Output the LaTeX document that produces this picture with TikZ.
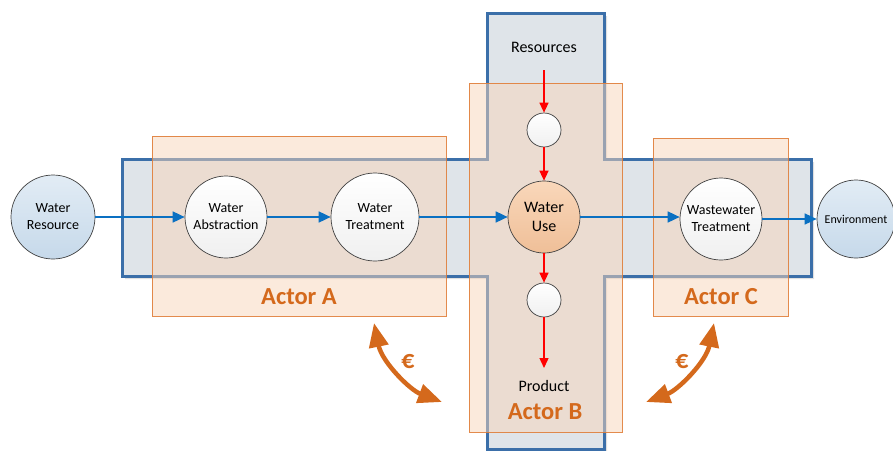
\documentclass[tikz,border=0pt]{standalone}
\usepackage{fontspec}
\setmainfont{Carlito}
\usetikzlibrary{arrows.meta}
\definecolor{crossfill}{HTML}{DFE4E9}
\definecolor{crossline}{HTML}{3B6FA9}
\definecolor{actfill}{HTML}{F8D6BA}
\definecolor{actline}{HTML}{E07E3A}
\definecolor{acttext}{HTML}{D4691C}
\definecolor{flowblue}{HTML}{0A70C2}
\definecolor{flowred}{HTML}{FF0000}
\definecolor{bluenodetop}{HTML}{E2ECF5}
\definecolor{bluenodebot}{HTML}{C6D9EA}
\definecolor{usetop}{HTML}{F9D7BA}
\definecolor{usebot}{HTML}{EFBF98}
\begin{document}
\begin{tikzpicture}[x=1pt,y=-1pt,
  actorbox/.style={draw=actline, line width=0.9pt, fill=actfill, fill opacity=0.5, draw opacity=0.9},
  actorlabel/.style={text=acttext, font=\fontsize{24.5}{28}\selectfont\bfseries},
  procnode/.style={circle, draw=black!75, line width=0.7pt, inner sep=0pt, top color=white, bottom color=black!6, align=center, font=\fontsize{14}{17}\selectfont},
  extnode/.style={procnode, top color=bluenodetop, bottom color=bluenodebot},
  usenode/.style={procnode, top color=usetop, bottom color=usebot, font=\fontsize{16}{19}\selectfont},
  plaintext/.style={font=\fontsize{16}{18}\selectfont, inner sep=0pt},
  blueflow/.style={draw=flowblue, line width=1.6pt, -{Triangle[length=12pt,width=11pt]}},
  redflow/.style={draw=flowred, line width=1.4pt, -{Triangle[length=10pt,width=9pt]}},
  money/.style={draw=acttext, line width=4.5pt, {Triangle[length=24pt,width=19pt]}-{Triangle[length=24pt,width=19pt]}},
  eurolabel/.style={text=acttext, font=\fontsize{26}{28}\selectfont\bfseries}
]
\useasboundingbox (0,0) rectangle (893,450);
% shadow of cross
\fill[black!12] (125,162) -- (490,162) -- (490,16) -- (607,16) -- (607,162) -- (814,162) -- (814,279) -- (607,279) -- (607,452) -- (490,452) -- (490,279) -- (125,279) -- cycle;
% cross
\draw[crossline, line width=3pt, fill=crossfill, line join=miter]
  (122,159) -- (487,159) -- (487,13) -- (604,13) -- (604,159) -- (811,159) -- (811,276) -- (604,276) -- (604,449) -- (487,449) -- (487,276) -- (122,276) -- cycle;
% actor boxes
\path[actorbox] (152,136) rectangle (446,316);
\path[actorbox] (469,83) rectangle (622,432);
\path[actorbox] (653,138) rectangle (788,316);
\node[actorlabel] (la) at (299,297) {Actor A};
\node[actorlabel] (lb) at (545,412) {Actor B};
\node[actorlabel] (lc) at (721,297) {Actor C};
% nodes
\node[extnode, minimum size=84pt] (wr) at (53,217) {Water\\Resource};
\node[procnode, minimum size=82pt] (wa) at (226,217) {Water\\Abstraction};
\node[procnode, minimum size=88pt] (wt) at (375,217) {Water\\Treatment};
\node[usenode, minimum size=72pt] (wu) at (544,217) {Water\\Use};
\node[procnode, minimum size=34pt] (s1) at (544,130) {};
\node[procnode, minimum size=34pt] (s2) at (544,300) {};
\node[procnode, minimum size=82pt] (ww) at (721,219) {Wastewater\\Treatment};
\node[extnode, minimum size=78pt, font=\fontsize{12}{14}\selectfont] (env) at (856,219) {Environment};
\node[plaintext] (res) at (544,47) {Resources};
\node[plaintext] (prod) at (544,386) {Product};
\coordinate (rin) at (544,70);
\coordinate (rout) at (544,368);
% blue flows
\draw[blueflow] (wr.east) -- (wa.west);
\draw[blueflow] (wa.east) -- (wt.west);
\draw[blueflow] (wt.east) -- (wu.west);
\draw[blueflow] (wu.east) -- (wu.east -| ww.west);
\draw[blueflow] (ww.east) -- (ww.east -| env.west);
% red flows
\draw[redflow] (rin) -- (s1.north);
\draw[redflow] (s1.south) -- (wu.north);
\draw[redflow] (wu.south) -- (s2.north);
\draw[redflow] (s2.south) -- (rout);
% money arrows
\coordinate (ma1) at (374,323);
\coordinate (ma2) at (442,402);
\coordinate (mc1) at (714,323);
\coordinate (mc2) at (646,402);
\draw[money] (ma1) .. controls (382,362) and (410,390) .. (ma2);
\draw[money] (mc1) .. controls (706,362) and (678,390) .. (mc2);
\node[eurolabel] (ea) at (408,362) {€};
\node[eurolabel] (ec) at (682,362) {€};
\end{tikzpicture}
\end{document}
